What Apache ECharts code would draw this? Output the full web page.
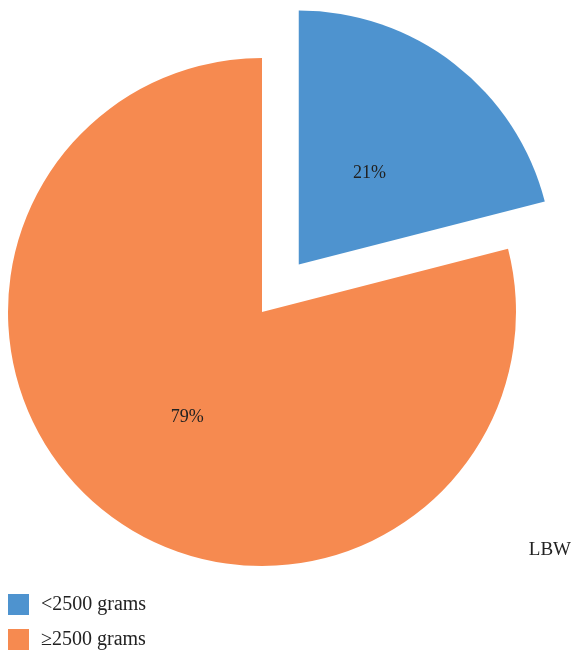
<!DOCTYPE html>
<html>
<head>
<meta charset="utf-8">
<script src="https://cdn.jsdelivr.net/npm/echarts@6/dist/echarts.min.js"></script>
<style>html,body{margin:0;padding:0;background:#fff}#c{width:582px;height:650px}</style>
</head>
<body>
<div id="c"></div>
<script>
const categories = ['<2500 grams', '\u22652500 grams'];
const values = [21, 79];
const colors = ['#4e93cf', '#f68a50'];
const chartTitle = 'LBW';

const chart = echarts.init(document.getElementById('c'), null, {renderer: 'canvas'});
const font = 'Liberation Serif';
const labelPad = [[22, 18, 0, 0], [6, 0, 0, 10]];
chart.setOption({
  animation: false,
  title: {
    text: chartTitle, right: 6, top: 536,
    textStyle: {fontFamily: font, fontWeight: 'normal', fontSize: 19, color: '#222'}
  },
  legend: {
    orient: 'vertical', left: 8, top: 594, height: 100, padding: 0,
    itemWidth: 21, itemHeight: 21, itemGap: 14,
    icon: 'rect',
    data: categories,
    textStyle: {fontFamily: font, fontSize: 20, color: '#222', padding: [0, 0, 0, 7]}
  },
  series: [{
    type: 'pie',
    center: [262, 312],
    radius: 254,
    startAngle: 90,
    clockwise: true,
    selectedMode: 'single',
    selectedOffset: 60,
    avoidLabelOverlap: false,
    label: {
      show: true, position: 'inside',
      formatter: '{v|{d}%}',
      fontFamily: font, fontSize: 18, color: '#222'
    },
    labelLine: {show: false},
    emphasis: {disabled: true},
    itemStyle: {borderWidth: 0},
    data: categories.map((c, i) => ({
      name: c, value: values[i], selected: i === 0,
      itemStyle: {color: colors[i]},
      label: {rich: {v: {fontFamily: font, fontSize: 18, color: '#222', padding: labelPad[i]}}}
    }))
  }]
});
</script>
</body>
</html>
